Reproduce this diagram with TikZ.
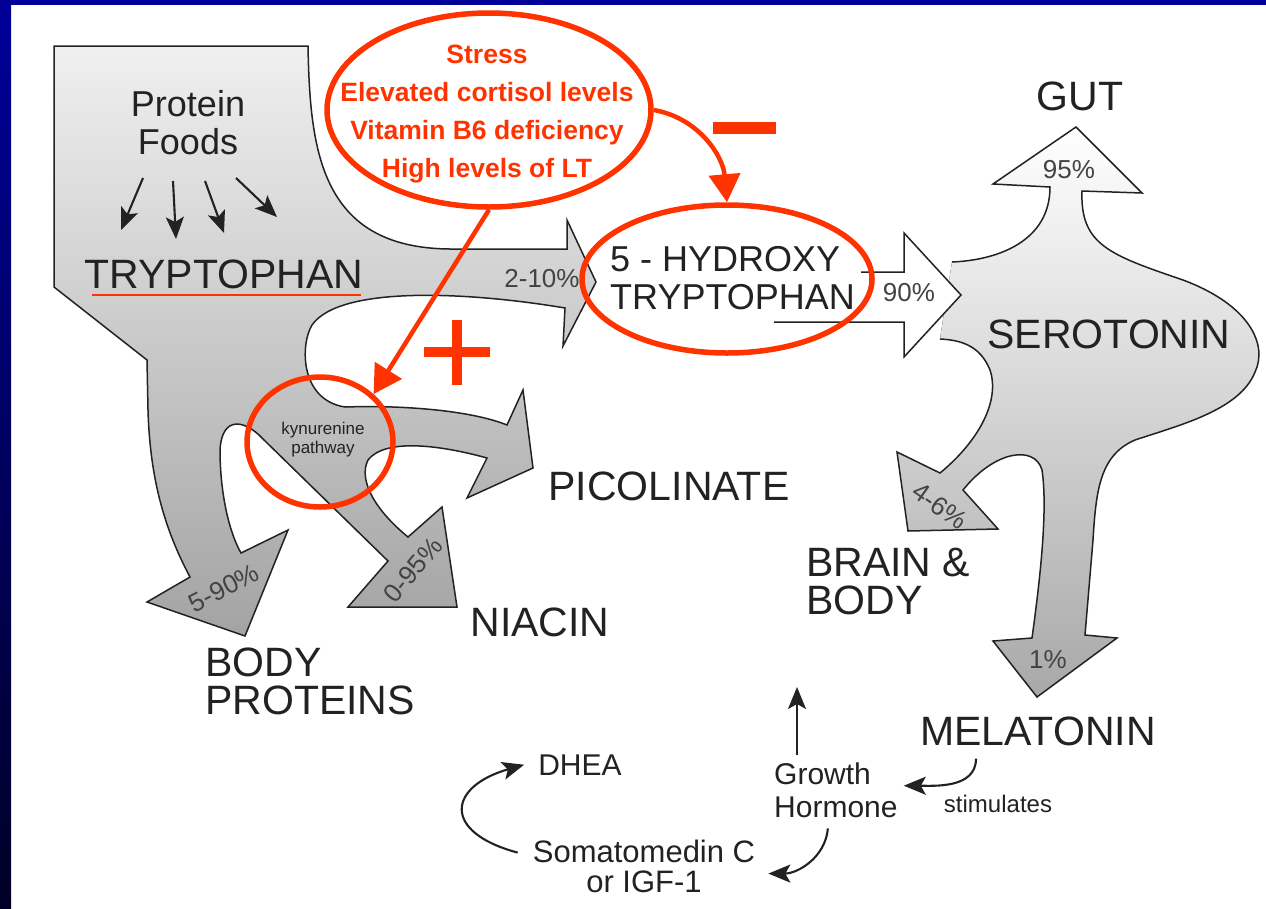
\documentclass[tikz,border=0pt]{standalone}
\usepackage{fontspec}
\setmainfont{Liberation Sans}
\usepackage{xcolor}
\usetikzlibrary{shapes.geometric, arrows.meta, positioning, calc}

\definecolor{alarm}{RGB}{255,51,0}
\definecolor{slide}{RGB}{0,0,153}
\definecolor{ink}{RGB}{34,34,34}

\begin{document}
\begin{tikzpicture}[
  x=1pt, y=-1pt,
  flow/.style={draw=ink, line width=1.5pt, line join=miter},
  labelbig/.style={font=\fontsize{41}{38}\selectfont, text=ink, inner sep=0pt},
  labelmid/.style={font=\fontsize{36}{38}\selectfont, text=ink, inner sep=0pt},
  labelsmall/.style={font=\fontsize{30}{33}\selectfont, text=ink, inner sep=0pt},
  pct/.style={font=\fontsize{26}{28}\selectfont, text=ink!85, inner sep=0pt},
  ring/.style={ellipse, draw=alarm, line width=5.5pt, inner sep=0pt},
  cause/.style={font=\bfseries\fontsize{26.5}{38}\selectfont, text=alarm, align=center, inner sep=0pt},
  redarrow/.style={draw=alarm, line width=4.5pt, -{Triangle[length=28pt,width=31pt]}},
  arrow/.style={draw=ink, line width=2.1pt, -{Stealth[length=22pt,width=18pt,inset=5pt]}}
]
\useasboundingbox (0,0) rectangle (1266,908);

\draw[flow, top color=black!6, bottom color=black!36]
  (54,46) -- (308,46)
  .. controls (310,150) and (320,248) .. (450,249) -- (567,249)
  -- (567,220) -- (596,282) -- (563,346) -- (565,308)
  .. controls (470,292) and (340,285) .. (312,325)
  .. controls (300,345) and (300,400) .. (345,407)
  .. controls (400,405) and (470,410) .. (507,425)
  -- (523,390) -- (533,468) -- (467,498) -- (487,458)
  .. controls (440,445) and (385,438) .. (368,460)
  .. controls (358,480) and (375,510) .. (408,537)
  -- (442,507) -- (457,607) -- (348,607) -- (388,561)
  -- (262,438)
  .. controls (245,420) and (222,415) .. (220,450)
  .. controls (220,490) and (228,530) .. (241,553)
  -- (288,530) -- (245,636) -- (147,602) -- (190,577)
  .. controls (165,530) and (150,480) .. (148,410)
  -- (147,360) -- (54,287) -- cycle;

\def\seropath{(952,262) .. controls (1000,260) and (1050,240) .. (1050,187)
  -- (993,184) -- (1076,127) -- (1142,193) -- (1082,191)
  .. controls (1080,245) and (1110,255) .. (1183,280)
  .. controls (1250,305) and (1268,345) .. (1255,372)
  .. controls (1240,410) and (1180,425) .. (1135,440)
  .. controls (1100,455) and (1096,490) .. (1093,540)
  -- (1085,635) -- (1117,638) -- (1037,697) -- (993,641) -- (1032,638)
  .. controls (1040,580) and (1048,510) .. (1042,470)
  .. controls (1035,445) and (995,450) .. (963,490)
  -- (998,529) -- (908,531) -- (897,452) -- (940,473)
  .. controls (980,440) and (1000,400) .. (990,370)
  .. controls (980,345) and (960,340) .. (940,339)}
\fill[top color=white, middle color=black!10, bottom color=black!34] \seropath -- cycle;
\draw[flow] \seropath;

\fill[white] (861,272) -- (904,272) -- (904,233) -- (961,295) -- (904,357) -- (904,322) -- (861,322) -- cycle;
\draw[flow] (861,272) -- (904,272) -- (904,233) -- (961,295) -- (904,357) -- (904,322) -- (774,322);

\node[labelmid, align=center, anchor=north] (protein) at (188,90) {Protein\\Foods};
\node[labelbig, anchor=base] (trp) at (224,288) {TRYPTOPHAN};
\node[labelmid, align=left, anchor=north west] (htp) at (610,246) {5 - HYDROXY\\TRYPTOPHAN};
\node[labelbig, anchor=base] (gut) at (1080,110) {GUT};
\node[labelbig, anchor=base] (serotonin) at (1109,348) {SEROTONIN};
\node[labelbig, anchor=base] (picolinate) at (669,500) {PICOLINATE};
\node[labelbig, anchor=base] (niacin) at (540,636) {NIACIN};
\node[labelbig, align=left, anchor=north west] (bodyprot) at (205,648) {BODY\\PROTEINS};
\node[labelbig, align=left, anchor=north west] (brainbody) at (806,548) {BRAIN \&\\BODY};
\node[labelbig, anchor=base] (melatonin) at (1038,745) {MELATONIN};
\node[font=\fontsize{17}{19}\selectfont, text=ink, align=center, inner sep=0pt] (kyn) at (323,440) {kynurenine\\pathway};

\node[pct] (p210) at (542,279) {2-10\%};
\node[pct] (p90) at (909,293) {90\%};
\node[pct] (p95) at (1069,170) {95\%};
\node[pct] (p1) at (1048,660) {1\%};
\node[pct, rotate=27] (p590) at (224,588) {5-90\%};
\node[pct, rotate=50] (p095) at (413,570) {0-95\%};
\node[pct, rotate=-35] (p46) at (940,506) {4-6\%};

\node[labelsmall, anchor=base] (dhea) at (580,775) {DHEA};
\node[labelsmall, align=left, anchor=north west] (growth) at (774,763) {Growth\\Hormone};
\node[labelsmall, font=\fontsize{31}{30}\selectfont, align=center, anchor=north] (somato) at (644,840) {Somatomedin C\\or IGF-1};
\node[font=\fontsize{24}{26}\selectfont, text=ink, inner sep=0pt, anchor=base] (stimulates) at (998,812) {stimulates};

\coordinate (fs1) at (143,178); \coordinate (fe1) at (121,230);
\coordinate (fs2) at (173,181); \coordinate (fe2) at (176,239);
\coordinate (fs3) at (205,181); \coordinate (fe3) at (224,233);
\coordinate (fs4) at (236,178); \coordinate (fe4) at (277,217);
\foreach \i in {1,...,4}
  \draw[arrow] (fs\i) -- (fe\i);

\coordinate (upend) at (797,687);
\draw[arrow] ([xshift=23pt,yshift=8pt]growth.north west) -- (upend);
\draw[arrow] ([xshift=-62pt,yshift=-13pt]melatonin.south) to[out=-90, in=0] ([xshift=6pt,yshift=5pt]growth.east);
\draw[arrow] ([xshift=-8pt,yshift=-10pt]growth.south) to[out=-95, in=0] ([xshift=13pt,yshift=-7pt]somato.east);
\draw[arrow] ([xshift=-15pt,yshift=14pt]somato.west) to[out=165, in=196, looseness=2.3] ([xshift=-14pt]dhea.west);

\draw[alarm, line width=2.5pt] ([xshift=8pt,yshift=-7pt]trp.base west) -- ([xshift=-3pt,yshift=-7pt]trp.base east);

\node[ring, minimum width=324pt, minimum height=194pt] (stressring) at (489,110) {};
\node[ring, minimum width=290pt, minimum height=148pt] (htpring) at (727,279) {};
\node[ring, minimum width=146pt, minimum height=130pt] (kynring) at (320,442) {};
\node[cause, anchor=north] (causes) at (487,45) {Stress\\Elevated cortisol levels\\Vitamin B6 deficiency\\High levels of LT};

\draw[redarrow] (stressring.east) to[out=-10, in=95] (htpring.north);
\draw[redarrow] (stressring.south) -- (kynring.north east);
\draw[alarm, line width=10pt] (424,352) -- (490,352) (457,320) -- (457,385);
\fill[alarm] (713,122) rectangle (776,134);

\fill[slide] (0,0) rectangle (1266,5);
\shade[top color=slide, bottom color=slide!25!black] (0,0) rectangle (11,908);
\end{tikzpicture}
\end{document}
